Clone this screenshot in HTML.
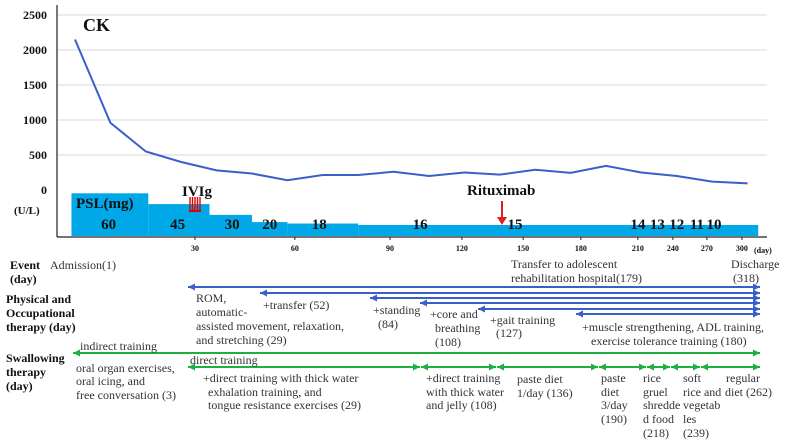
<!DOCTYPE html>
<html><head><meta charset="utf-8"><style>
html,body{margin:0;padding:0;background:#fff}
svg{display:block}
text{font-family:"Liberation Serif",serif}
.b{font-weight:bold;fill:#111}
.t{font-size:12px;fill:#333}
</style></head><body>
<svg id="c" width="787" height="443" viewBox="0 0 787 443" xmlns="http://www.w3.org/2000/svg">
<g id="grid"></g>
<line x1="57" y1="5" x2="57" y2="237" stroke="#222" stroke-width="1.2"/>
<g id="psl"></g>
<line x1="57" y1="237" x2="767" y2="237" stroke="#222" stroke-width="1.2"/>
<g id="ylab"></g>
<g id="xlab"></g>
<path id="ck" fill="none" stroke="#3a5fc8" stroke-width="2"/>
<text x="83" y="31" class="b" font-size="18">CK</text>
<text x="14" y="214" class="b" font-size="11">(U/L)</text>
<text x="76" y="208" class="b" font-size="15">PSL(mg)</text>
<text x="182" y="196" class="b" font-size="15">IVIg</text>
<g stroke="#e00000" stroke-width="1.4">
<line x1="190" y1="197" x2="190" y2="211"/><line x1="192.5" y1="197" x2="192.5" y2="211"/><line x1="195" y1="197" x2="195" y2="211"/><line x1="197.5" y1="197" x2="197.5" y2="211"/><line x1="200" y1="197" x2="200" y2="211"/><line x1="189" y1="211" x2="201" y2="211" stroke-width="2"/></g>
<text x="467" y="195" class="b" font-size="15">Rituximab</text>
<g><line x1="502" y1="201" x2="502" y2="218" stroke="#e02020" stroke-width="2"/><polygon points="497,217 507,217 502,225" fill="#e02020"/></g>
<text x="754" y="253" class="b" font-size="8">(day)</text>
<g id="pslv"></g>

<g class="t">
<text x="10" y="269" class="b" font-size="12">Event</text>
<text x="10" y="283" class="b" font-size="12">(day)</text>
<text x="50" y="269" class="t">Admission(1)</text>
<text x="511" y="268" class="t">Transfer to adolescent</text>
<text x="511" y="282" class="t">rehabilitation hospital(179)</text>
<text x="731" y="268" class="t">Discharge</text>
<text x="733" y="282" class="t">(318)</text>
</g>
<g id="arrows"></g>
<g>
<text x="6" y="303" class="b" font-size="12">Physical and</text>
<text x="6" y="317" class="b" font-size="12">Occupational</text>
<text x="6" y="331" class="b" font-size="12">therapy (day)</text>
<text x="196" y="302" class="t">ROM,</text>
<text x="196" y="316" class="t">automatic-</text>
<text x="196" y="330" class="t">assisted movement, relaxation,</text>
<text x="196" y="344" class="t">and stretching (29)</text>
<text x="263" y="309" class="t">+transfer (52)</text>
<text x="373" y="314" class="t">+standing</text>
<text x="378" y="328" class="t">(84)</text>
<text x="430" y="318" class="t">+core and</text>
<text x="435" y="332" class="t">breathing</text>
<text x="435" y="346" class="t">(108)</text>
<text x="490" y="324" class="t">+gait training</text>
<text x="496" y="337" class="t">(127)</text>
<text x="582" y="331" class="t">+muscle strengthening, ADL training,</text>
<text x="591" y="345" class="t">exercise tolerance training (180)</text>
</g>
<g>
<text x="6" y="362" class="b" font-size="12">Swallowing</text>
<text x="6" y="376" class="b" font-size="12">therapy</text>
<text x="6" y="390" class="b" font-size="12">(day)</text>
<text x="80" y="350" class="t">indirect training</text>
<text x="190" y="364" class="t">direct training</text>
<text x="76" y="372" class="t">oral organ exercises,</text>
<text x="76" y="385" class="t">oral icing, and</text>
<text x="76" y="399" class="t">free conversation (3)</text>
<text x="203" y="382" class="t">+direct training with thick water</text>
<text x="208" y="396" class="t">exhalation training, and</text>
<text x="208" y="409" class="t">tongue resistance exercises (29)</text>
<text x="426" y="382" class="t">+direct training</text>
<text x="426" y="396" class="t">with thick water</text>
<text x="426" y="409" class="t">and  jelly (108)</text>
<text x="517" y="383" class="t">paste diet</text>
<text x="517" y="397" class="t">1/day (136)</text>
<text x="601" y="382" class="t">paste</text>
<text x="601" y="396" class="t">diet</text>
<text x="601" y="409" class="t">3/day</text>
<text x="601" y="423" class="t">(190)</text>
<text x="643" y="382" class="t">rice</text>
<text x="643" y="396" class="t">gruel</text>
<text x="643" y="409" class="t">shredde</text>
<text x="643" y="423" class="t">d food</text>
<text x="643" y="437" class="t">(218)</text>
<text x="683" y="382" class="t">soft</text>
<text x="683" y="396" class="t">rice and</text>
<text x="683" y="409" class="t">vegetab</text>
<text x="683" y="423" class="t">les</text>
<text x="683" y="437" class="t">(239)</text>
<text x="726" y="382" class="t">regular</text>
<text x="725" y="396" class="t">diet (262)</text>
</g>
</svg>
<script>
const ckValues=[2150,960,550,400,280,235,140,215,215,260,200,250,220,290,245,345,250,200,120,95];
const yTicks=[0,500,1000,1500,2000,2500];
const xTickLabels=["30","60","90","120","150","180","210","240","270","300"];
const xTickIdx=[3.39,6.21,8.9,10.93,12.66,14.29,15.9,16.89,17.85,18.84];
const pslDoses=[60,45,30,20,18,16];
const pslStartIdx=[-0.1,2.07,3.8,5.0,6.0,8.0];
const pslEndIdx=19.3;
const pslLabels=["60","45","30","20","18","16","15","14","13","12","11","10"];
const pslLabelIdx=[0.95,2.9,4.44,5.5,6.9,9.75,12.43,15.9,16.45,17.0,17.57,18.05];

const ns="http://www.w3.org/2000/svg";
const X=i=>75+i*35.4;
const Y=v=>190-v*0.07;
const H=d=>0.72*d-0.5;
function mk(t,a,p){const e=document.createElementNS(ns,t);for(const k in a)e.setAttribute(k,a[k]);document.getElementById(p).appendChild(e);return e;}

yTicks.forEach(v=>{
  if(v>0){const g=mk('line',{x1:57,x2:767,y1:Y(v),y2:Y(v),stroke:'#d8d8d8','stroke-width':1},'grid');
  
  }
  const t=mk('text',{x:47,y:Y(v)+4,'text-anchor':'end',class:'b','font-size':12},'ylab');
  t.textContent=v;
  
  
});
xTickLabels.forEach((l,i)=>{
  const t=mk('text',{x:X(xTickIdx[i]),y:251,'text-anchor':'middle',class:'b','font-size':8},'xlab');
  t.textContent=l;
  
  
  const k=mk('line',{x1:X(xTickIdx[i]),x2:X(xTickIdx[i]),y1:237,y2:240,stroke:'#222'},'xlab');
  
  
});
document.getElementById('ck').setAttribute('d',ckValues.map((v,i)=>(i?'L':'M')+X(i)+','+Y(v)).join(''));
pslDoses.forEach((d,i)=>{
  const x0=X(pslStartIdx[i]),x1=i<pslDoses.length-1?X(pslStartIdx[i+1]):X(pslEndIdx);
  const r=mk('rect',{x:x0,y:236-H(d),width:x1-x0,height:H(d),fill:'#00a8e8'},'psl');
  
  
});
pslLabels.forEach((l,i)=>{
  const t=mk('text',{x:X(pslLabelIdx[i]),y:229,'text-anchor':'middle',class:'b','font-size':15},'pslv');
  t.textContent=l;
  
  
});
function arrow(x0,x1,y,col,l,r,name){
  const ln=mk('line',{x1:x0,x2:x1,y1:y,y2:y,stroke:col,'stroke-width':2},'arrows');
  
  
  if(l)mk('polygon',{points:`${x0},${y} ${x0+7},${y-3.5} ${x0+7},${y+3.5}`,fill:col},'arrows');
  if(r)mk('polygon',{points:`${x1},${y} ${x1-7},${y-3.5} ${x1-7},${y+3.5}`,fill:col},'arrows');
}
const blue='#3a5fc8',green='#1fb040';
[[188,287],[260,293],[370,298],[420,303],[478,309],[576,314]].forEach(a=>arrow(a[0],760,a[1],blue,1,1,'pt-arrow'));
arrow(73,760,353,green,1,1,'indirect-training-arrow');
[[188,420],[421,496],[497,598],[599,646],[647,670],[671,700],[701,760]].forEach(a=>arrow(a[0],a[1],367,green,1,1,'direct-training-arrow'));
</script>
</body></html>
